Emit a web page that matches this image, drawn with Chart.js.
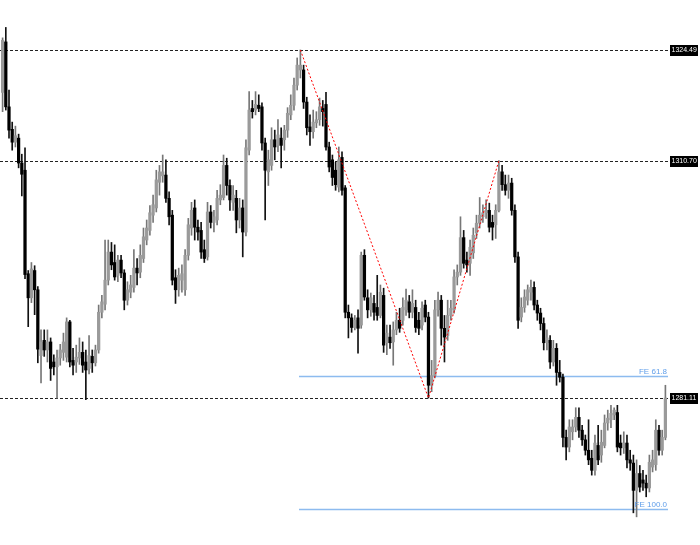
<!DOCTYPE html>
<html>
<head>
<meta charset="utf-8">
<title>Candles</title>
<script src="https://cdn.jsdelivr.net/npm/chart.js@4.4.1/dist/chart.umd.min.js"></script>
<style>
  html, body { margin: 0; padding: 0; background: #fff; }
  #wrap { width: 700px; height: 545px; }
</style>
</head>
<body>
<div id="wrap"><canvas id="chart" width="700" height="545"></canvas></div>
<script>
// OHLC, one bar per slot
var opens = [
  1319.2, 1325.5, 1317.4, 1314.6, 1313.0, 1313.5, 1310.4, 1309.5, 1296.6, 1293.6,
  1297.0, 1294.6, 1286.4, 1288.3, 1287.1, 1288.1, 1285.6, 1285.0, 1286.1, 1286.8,
  1286.2, 1290.6, 1285.8, 1285.6, 1286.1, 1286.8, 1285.6, 1284.8, 1286.3, 1285.5,
  1287.1, 1291.8, 1292.8, 1295.8, 1299.3, 1298.0, 1296.4, 1298.3, 1296.7, 1293.3,
  1294.3, 1294.9, 1297.3, 1296.8, 1298.5, 1300.8, 1302.0, 1303.9, 1304.8, 1308.0,
  1308.8, 1308.9, 1306.0, 1303.9, 1296.1, 1294.6, 1295.8, 1294.6, 1298.9, 1302.3,
  1304.8, 1302.4, 1302.0, 1299.6, 1298.7, 1304.3, 1303.0, 1303.3, 1305.8, 1306.1,
  1310.1, 1307.6, 1305.5, 1306.0, 1303.3, 1304.8, 1301.8, 1312.0, 1317.2, 1317.0,
  1317.6, 1317.4, 1312.9, 1309.3, 1310.1, 1313.3, 1312.6, 1313.5, 1313.3, 1314.5,
  1316.4, 1317.6, 1320.1, 1322.0, 1322.0, 1318.0, 1314.9, 1314.3, 1315.4, 1315.8,
  1317.2, 1317.7, 1312.4, 1310.8, 1309.5, 1307.4, 1311.1, 1307.3, 1291.8, 1291.1,
  1289.9, 1291.1, 1290.2, 1298.9, 1293.6, 1292.1, 1292.9, 1292.4, 1291.4, 1293.9,
  1288.0, 1288.7, 1288.1, 1289.6, 1290.8, 1290.8, 1292.1, 1293.1, 1291.8, 1292.4,
  1290.8, 1290.2, 1292.7, 1291.2, 1282.7, 1283.9, 1292.1, 1293.3, 1289.8, 1288.9,
  1291.4, 1292.1, 1296.2, 1296.8, 1301.1, 1298.3, 1297.9, 1299.2, 1301.7, 1302.9,
  1303.7, 1304.2, 1304.5, 1303.0, 1302.7, 1304.5, 1309.3, 1307.7, 1307.0, 1307.9,
  1304.5, 1298.7, 1291.2, 1292.4, 1293.3, 1294.3, 1294.9, 1292.7, 1291.7, 1290.4,
  1288.0, 1288.3, 1285.6, 1287.3, 1284.3, 1283.7, 1276.2, 1275.0, 1276.9, 1277.5,
  1278.7, 1277.1, 1275.9, 1274.6, 1273.6, 1272.1, 1275.2, 1274.0, 1275.2, 1278.0,
  1278.4, 1279.0, 1279.3, 1275.5, 1274.9, 1275.5, 1273.4, 1273.0, 1269.6, 1271.7,
  1270.9, 1270.5, 1269.9, 1272.5, 1272.8, 1277.1, 1274.6, 1276.2
];
var highs = [
  1326.0, 1327.3, 1319.5, 1315.5, 1315.0, 1314.0, 1311.5, 1312.3, 1297.0, 1298.0,
  1297.6, 1295.0, 1289.6, 1289.6, 1289.6, 1288.6, 1286.5, 1287.1, 1287.8, 1289.2,
  1291.1, 1290.8, 1287.3, 1287.7, 1288.6, 1288.1, 1287.1, 1288.9, 1287.1, 1287.7,
  1292.7, 1293.9, 1300.8, 1300.8, 1300.5, 1300.2, 1298.9, 1298.9, 1297.1, 1295.6,
  1296.4, 1299.6, 1298.5, 1300.2, 1302.3, 1303.3, 1305.1, 1306.4, 1309.5, 1310.1,
  1311.4, 1310.8, 1306.8, 1304.5, 1297.1, 1297.3, 1297.7, 1299.6, 1303.5, 1305.5,
  1305.8, 1303.3, 1303.0, 1300.8, 1305.5, 1305.1, 1304.5, 1307.0, 1307.7, 1311.4,
  1311.0, 1308.3, 1307.6, 1307.0, 1306.0, 1305.8, 1313.3, 1319.3, 1318.2, 1319.3,
  1318.9, 1317.9, 1313.5, 1312.0, 1314.8, 1314.5, 1315.8, 1314.8, 1315.1, 1317.3,
  1318.9, 1321.0, 1323.5, 1324.49, 1322.6, 1318.6, 1316.4, 1317.0, 1316.8, 1318.5,
  1318.2, 1319.2, 1313.0, 1311.4, 1310.5, 1312.4, 1311.8, 1307.6, 1292.7, 1291.6,
  1291.4, 1292.1, 1299.3, 1299.6, 1294.6, 1294.2, 1293.9, 1296.4, 1295.2, 1294.8,
  1290.2, 1290.2, 1290.6, 1291.8, 1292.3, 1293.6, 1294.7, 1293.9, 1294.6, 1293.3,
  1291.8, 1293.1, 1293.3, 1291.8, 1285.8, 1293.3, 1294.3, 1293.9, 1291.4, 1293.3,
  1293.3, 1297.1, 1297.7, 1303.7, 1302.0, 1299.3, 1300.8, 1302.3, 1303.9, 1306.1,
  1305.2, 1305.8, 1305.4, 1303.9, 1305.2, 1310.70, 1310.1, 1308.9, 1308.9, 1308.5,
  1305.2, 1299.3, 1293.6, 1294.6, 1295.2, 1295.8, 1295.6, 1293.3, 1292.3, 1291.1,
  1289.6, 1288.9, 1288.3, 1287.9, 1285.8, 1284.1, 1277.1, 1278.4, 1278.4, 1279.9,
  1279.9, 1277.7, 1276.5, 1278.4, 1274.6, 1276.5, 1277.7, 1277.1, 1279.0, 1279.6,
  1280.2, 1279.9, 1280.2, 1276.5, 1276.9, 1276.5, 1274.6, 1274.0, 1273.4, 1272.7,
  1272.1, 1271.5, 1274.0, 1274.6, 1278.4, 1277.7, 1277.1, 1282.7
];
var lows = [
  1316.8, 1317.0, 1313.5, 1312.0, 1312.4, 1309.8, 1306.3, 1296.0, 1290.0, 1293.0,
  1291.5, 1285.5, 1283.0, 1286.3, 1285.6, 1283.3, 1284.0, 1281.1, 1285.2, 1285.8,
  1285.6, 1285.0, 1284.0, 1284.3, 1285.3, 1284.3, 1280.9, 1284.1, 1284.3, 1285.1,
  1286.7, 1291.1, 1292.1, 1295.2, 1297.1, 1295.8, 1295.6, 1296.1, 1292.1, 1292.7,
  1293.6, 1294.3, 1295.2, 1296.1, 1298.0, 1300.2, 1301.4, 1303.0, 1304.3, 1306.4,
  1308.0, 1305.5, 1302.7, 1295.2, 1292.9, 1293.8, 1294.3, 1293.9, 1298.3, 1301.4,
  1300.8, 1300.8, 1298.5, 1298.0, 1298.3, 1302.3, 1301.8, 1302.7, 1305.2, 1305.8,
  1306.4, 1304.5, 1304.5, 1301.7, 1302.3, 1298.7, 1301.3, 1311.4, 1316.0, 1316.4,
  1316.8, 1312.0, 1303.3, 1307.6, 1309.5, 1310.8, 1311.8, 1309.8, 1312.0, 1313.6,
  1315.8, 1317.0, 1319.5, 1321.0, 1317.2, 1313.9, 1312.6, 1313.5, 1314.8, 1315.1,
  1315.0, 1312.0, 1309.3, 1307.6, 1307.0, 1306.8, 1306.4, 1291.1, 1288.6, 1289.3,
  1289.6, 1286.7, 1289.8, 1293.3, 1291.1, 1291.3, 1290.8, 1290.8, 1291.1, 1286.8,
  1286.5, 1287.3, 1285.2, 1289.0, 1289.3, 1290.2, 1291.4, 1291.1, 1291.1, 1289.3,
  1289.0, 1289.6, 1290.6, 1281.11, 1281.9, 1283.6, 1291.3, 1287.7, 1285.6, 1288.3,
  1290.8, 1291.7, 1295.2, 1296.4, 1297.3, 1296.8, 1296.4, 1298.5, 1301.0, 1302.3,
  1303.0, 1303.5, 1301.8, 1300.8, 1301.0, 1304.3, 1307.0, 1306.4, 1306.0, 1303.9,
  1298.0, 1289.8, 1290.6, 1291.8, 1292.7, 1293.3, 1292.1, 1290.8, 1289.6, 1287.1,
  1287.1, 1284.8, 1285.1, 1282.7, 1283.1, 1275.0, 1273.4, 1274.4, 1275.9, 1276.9,
  1276.2, 1275.2, 1274.0, 1272.8, 1271.5, 1271.5, 1272.8, 1273.1, 1274.9, 1277.1,
  1277.4, 1278.4, 1274.4, 1274.0, 1274.2, 1272.4, 1272.1, 1266.8, 1266.3, 1269.4,
  1269.6, 1268.8, 1269.4, 1271.9, 1272.1, 1274.0, 1274.0, 1275.9
];
var closes = [
  1325.7, 1317.4, 1314.5, 1313.0, 1313.8, 1310.4, 1309.0, 1296.5, 1293.6, 1297.2,
  1294.6, 1287.2, 1288.1, 1287.1, 1288.1, 1284.8, 1285.0, 1286.1, 1287.1, 1288.1,
  1290.6, 1285.6, 1285.2, 1286.2, 1286.8, 1285.2, 1284.6, 1286.4, 1285.5, 1287.1,
  1291.8, 1293.1, 1295.8, 1299.3, 1297.7, 1296.2, 1298.3, 1296.7, 1293.3, 1294.6,
  1295.2, 1297.3, 1296.7, 1298.9, 1301.2, 1302.3, 1304.2, 1305.2, 1308.3, 1309.3,
  1309.3, 1306.0, 1303.7, 1295.8, 1294.6, 1296.4, 1296.6, 1298.9, 1302.7, 1304.5,
  1302.4, 1301.8, 1299.3, 1298.5, 1304.3, 1303.0, 1303.7, 1306.0, 1306.4, 1310.1,
  1307.6, 1305.8, 1306.4, 1303.3, 1304.8, 1301.8, 1312.3, 1317.0, 1316.8, 1317.7,
  1317.2, 1312.9, 1309.5, 1310.8, 1313.3, 1312.4, 1313.9, 1312.6, 1314.5, 1316.6,
  1317.6, 1320.1, 1322.6, 1322.6, 1318.0, 1314.8, 1314.3, 1315.5, 1315.8, 1317.4,
  1316.8, 1312.4, 1309.9, 1308.6, 1307.7, 1310.8, 1307.0, 1291.8, 1291.1, 1289.9,
  1290.8, 1289.8, 1298.9, 1293.7, 1292.1, 1293.6, 1291.8, 1291.4, 1294.3, 1287.7,
  1289.2, 1288.0, 1289.6, 1290.8, 1289.8, 1292.4, 1293.3, 1291.8, 1292.9, 1289.9,
  1289.8, 1292.3, 1291.2, 1282.7, 1283.9, 1292.1, 1293.3, 1289.8, 1288.7, 1291.4,
  1292.3, 1296.2, 1296.8, 1301.1, 1297.9, 1297.7, 1299.9, 1301.4, 1302.9, 1303.9,
  1304.2, 1304.5, 1302.4, 1302.4, 1304.5, 1309.3, 1307.7, 1307.0, 1307.9, 1304.5,
  1298.7, 1290.8, 1292.4, 1293.7, 1294.6, 1294.9, 1292.7, 1291.7, 1290.4, 1288.0,
  1288.6, 1285.6, 1287.3, 1284.3, 1283.7, 1276.2, 1275.0, 1277.5, 1277.5, 1278.7,
  1277.1, 1275.9, 1274.6, 1273.4, 1272.1, 1275.5, 1273.4, 1275.6, 1278.0, 1278.6,
  1279.2, 1279.6, 1275.0, 1274.9, 1275.5, 1273.4, 1273.0, 1269.6, 1271.7, 1270.0,
  1270.5, 1269.9, 1273.1, 1273.4, 1277.1, 1274.6, 1276.2, 1281.11
];

// zigzag pivots (bar index, price)
var pivotIdx = [93, 133, 155];
var pivotPrice = [1324.49, 1281.11, 1310.70];

// dashed horizontal price levels with tags on the right
var levels = [1324.49, 1310.70, 1281.11];
var levelTags = ['1324.49', '1310.70', '1281.11'];

// fibo expansion levels
var fibNames = ['FE 61.8', 'FE 100.0'];
var fibValues = [1283.89, 1267.32];

var yMin = 1262.79, yMax = 1330.72;

var labels = closes.map(function (c, i) { return i; });
var bodies = closes.map(function (c, i) { return [Math.min(opens[i], c), Math.max(opens[i], c)]; });
var wicks = closes.map(function (c, i) { return [lows[i], highs[i]]; });
var isUp = closes.map(function (c, i) { return c >= opens[i]; });

var zigzag = labels.map(function () { return null; });
pivotIdx.forEach(function (idx, k) { zigzag[idx] = pivotPrice[k]; });

var overlay = {
    id: 'overlay',
    beforeDatasetsDraw: function (chart) {
        var ctx = chart.ctx, area = chart.chartArea;
        var y = chart.scales.y, x = chart.scales.x;
        ctx.save();
        ctx.lineWidth = 1;
        ctx.strokeStyle = '#222';
        ctx.setLineDash([3, 2]);
        levels.forEach(function (v) {
            var py = Math.round(y.getPixelForValue(v)) + 0.5;
            ctx.beginPath();
            ctx.moveTo(0, py);
            ctx.lineTo(area.right + 1, py);
            ctx.stroke();
        });
        ctx.setLineDash([]);
        ctx.strokeStyle = '#8dbbef';
        ctx.lineWidth = 1.5;
        var x0 = Math.round(x.getPixelForValue(pivotIdx[0])) - 1;
        fibValues.forEach(function (v) {
            var py = Math.round(y.getPixelForValue(v)) + 0.5;
            ctx.beginPath();
            ctx.moveTo(x0, py);
            ctx.lineTo(area.right + 1, py);
            ctx.stroke();
        });
        ctx.restore();
    },
    afterDraw: function (chart) {
        var ctx = chart.ctx, area = chart.chartArea, y = chart.scales.y;
        ctx.save();
        ctx.font = '7px "Liberation Sans", Arial, sans-serif';
        ctx.textBaseline = 'middle';
        levels.forEach(function (v, k) {
            var py = Math.round(y.getPixelForValue(v));
            ctx.fillStyle = '#000';
            ctx.fillRect(area.right + 3, py - 5, 28, 11);
            ctx.fillStyle = '#fff';
            ctx.textAlign = 'left';
            ctx.fillText(levelTags[k], area.right + 4.5, py + 0.5);
        });
        ctx.font = '8px "Liberation Sans", Arial, sans-serif';
        ctx.fillStyle = '#5f9eea';
        ctx.textAlign = 'right';
        ctx.textBaseline = 'alphabetic';
        fibValues.forEach(function (v, k) {
            var py = Math.round(y.getPixelForValue(v));
            ctx.fillText(fibNames[k], area.right, py - 2);
        });
        ctx.restore();
    }
};

new Chart(document.getElementById('chart').getContext('2d'), {
    type: 'bar',
    data: {
        labels: labels,
        datasets: [
            {
                type: 'line',
                data: zigzag,
                spanGaps: true,
                borderColor: '#ff0000',
                borderWidth: 1,
                borderDash: [2, 2],
                pointRadius: 0,
                fill: false,
                order: 0
            },
            {
                data: bodies,
                backgroundColor: isUp.map(function (u) { return u ? '#9a9a9a' : '#000'; }),
                borderWidth: 0,
                barThickness: 2.6,
                grouped: false,
                order: 1
            },
            {
                data: wicks,
                backgroundColor: isUp.map(function (u) { return u ? '#777' : '#111'; }),
                borderWidth: 0,
                barThickness: 1,
                grouped: false,
                order: 2
            }
        ]
    },
    options: {
        responsive: false,
        animation: false,
        layout: { padding: { left: 1, right: 33, top: 0, bottom: 0 } },
        scales: {
            x: { type: 'category', display: false, offset: true },
            y: { display: false, min: yMin, max: yMax }
        },
        plugins: {
            legend: { display: false },
            tooltip: { enabled: false }
        }
    },
    plugins: [overlay]
});
</script>
</body>
</html>
